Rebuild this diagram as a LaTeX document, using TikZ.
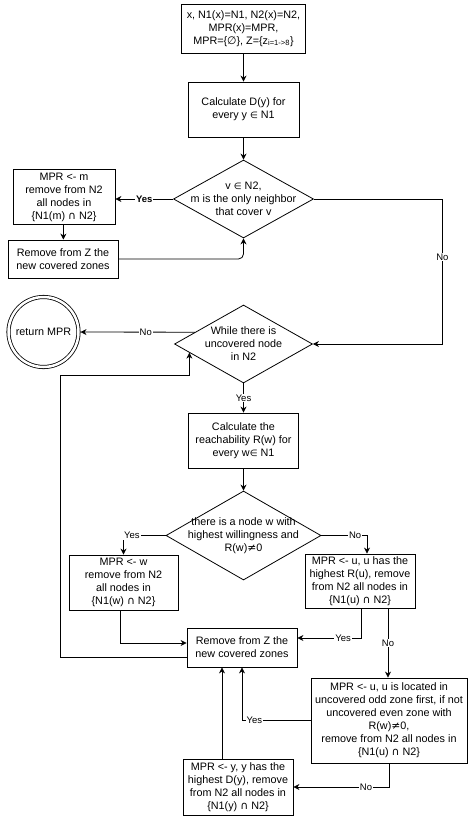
\documentclass[tikz,border=0pt]{standalone}
\usepackage{fontspec}
\setmainfont{Liberation Sans}
\newfontfamily\symfont{DejaVu Sans}
\newcommand{\elem}{{\symfont\small ∈}}
\newcommand{\inter}{{\symfont ∩}}
\newcommand{\nequ}{{\symfont ≠}}
\newcommand{\empt}{{\symfont ∅}}
\usetikzlibrary{arrows.meta,calc,shapes.geometric}
\tikzset{
	every node/.style={font=\fontsize{10.8}{13}\selectfont},
	wh/.style 2 args={minimum width=#1pt, minimum height=#2pt},
	box/.style={draw, line width=0.8pt, align=center, inner sep=1pt},
	dia/.style={draw, diamond, line width=0.8pt, align=center, inner xsep=-50pt, inner ysep=-16pt},
	arr/.style={-{Stealth[length=6pt,width=6pt]}, line width=0.8pt},
	lbl/.style={fill=white, inner sep=1pt, font=\fontsize{9.5}{11}\selectfont}
}

\begin{document}
\begin{tikzpicture}[x=1pt, y=-1pt]
			%%%%% START %%%%%
			\useasboundingbox (0,0) rectangle (474,822);
			
			% main column
			\node[box, wh={124}{49}] (init) at (243.5,28.5) {x, N1(x)=N1, N2(x)=N2,\\ MPR(x)=MPR,\\ MPR=\{\empt\}, Z=\{z\textsubscript{i=1->8}\}};
			\node[box, wh={111}{55}] (calcD) at (243.5,109.5) {Calculate D(y) for\\ every y \elem{} N1};
			\node[dia, wh={140}{78}] (d1) at (243.5,199) {v \elem{} N2,\\ m is the only neighbor\\ that cover v};
			\node[dia, wh={138}{78}] (d2) at (243.5,344) {While there is\\ uncovered node\\ in N2};
			\node[box, wh={110}{55}] (calcR) at (243.5,440.5) {Calculate the\\ reachability R(w) for\\ every w\elem{} N1};
			\node[dia, wh={155}{89}] (d3) at (243.5,535.5) {there is a node w with\\ highest willingness and\\ R(w)\nequ{}0};
			
			% left side
			\node[box, wh={102}{55}] (mprm) at (64,197) {MPR <- m\\ remove from N2\\ all nodes in\\ \{N1(m) \inter{} N2\}};
			\node[box, wh={110}{38}] (remz1) at (63,259) {Remove from Z the\\ new covered zones};
			\node[draw, circle, double, double distance=2.5pt, line width=0.8pt, minimum size=70pt, inner sep=0pt, outer sep=2pt] (ret) at (43.5,332) {return MPR};
			
			% lower part
			\node[box, wh={109}{55}] (mprw) at (123.5,582.5) {MPR <- w\\ remove from N2\\ all nodes in\\ \{N1(w) \inter{} N2\}};
			\node[box, wh={110}{54}] (mpru) at (360,581) {MPR <- u, u has the\\ highest R(u), remove\\ from N2 all nodes in\\ \{N1(u) \inter{} N2\}};
			\node[box, wh={110}{39}] (remz2) at (242,647.5) {Remove from Z the\\ new covered zones};
			\node[box, wh={156}{85}] (mpru2) at (389,720.5) {MPR <- u, u is located in\\ uncovered odd zone first, if not\\ uncovered even zone with\\ R(w)\nequ{}0,\\ remove from N2 all nodes in\\ \{N1(u) \inter{} N2\}};
			\node[box, wh={110}{56}] (mpry) at (238,787) {MPR <- y, y has the\\ highest D(y), remove\\ from N2 all nodes in\\ \{N1(y) \inter{} N2\}};
			
			% connectors
			\draw[arr] (init) -- (calcD);
			\draw[arr] (calcD) -- (d1);
			\draw[arr] (d1.west) -- node[lbl, font=\fontsize{9.5}{11}\selectfont\bfseries]{Yes} (mprm.east |- d1.west);
			\draw[arr] (mprm) -- (remz1);
			\draw[arr, rounded corners=5pt] (remz1.east) -| (d1.south);
			\draw[arr] (d1.east) -- ++(128.5,0) |- node[lbl, pos=0.2]{No} (d2.east);
			\draw[arr] ($(d2.west)!0.3!(d2.north)$) -- node[lbl, pos=0.43]{No} (ret);
			\draw[arr] (d2) -- node[lbl]{Yes} (calcR);
			\draw[arr] (calcR) -- (d3);
			\draw[arr] (d3.west) -| node[lbl, pos=0.4]{Yes} (mprw.north);
			\draw[arr] (d3.east) -| node[lbl, pos=0.37]{No} ([xshift=7pt]mpru.north);
			\draw[arr] ([xshift=-3pt]mprw.south) |- ([yshift=4.5pt]remz2.west);
			\draw[arr] ([xshift=1pt]mpru.south) |- node[lbl, pos=0.64]{Yes} ([yshift=9.5pt]remz2.east);
			\draw[arr] ([xshift=28pt]mpru.south) -- node[lbl]{No} ([xshift=28pt]mpru.south |- mpru2.north);
			\draw[arr] (mpru2.west) -| node[lbl, pos=0.41]{Yes} (remz2.south);
			\draw[arr] (mpru2.south) |- node[lbl, pos=0.62]{No} (mpry.east);
			\draw[arr] ([xshift=-16pt]mpry.north) -- ([xshift=-16pt]mpry.north |- remz2.south);
			\draw[arr] ([yshift=-9.5pt]remz2.west) -| (60,375) -| ($(d2.west)!0.22!(d2.south)$);
			
			%%%%% END %%%%%
\end{tikzpicture}
\end{document}
